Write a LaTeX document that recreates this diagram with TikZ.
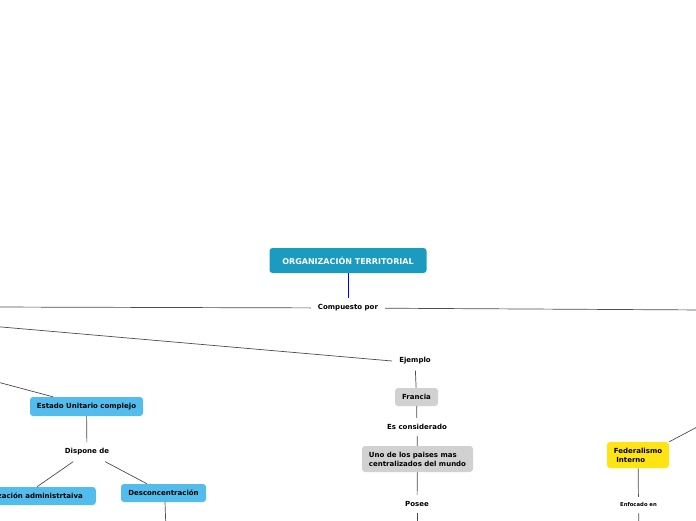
\documentclass[tikz,border=0pt]{standalone}
\usepackage{fontspec}
\setmainfont{DejaVu Sans}

\begin{document}
\begin{tikzpicture}[
            x=1pt, y=-1pt,
            every node/.style={
              font=\fontsize{7}{9}\selectfont\bfseries,
              text=black,
            },
            link/.style={draw=black!70, line width=0.7pt},
            label/.style={inner xsep=7pt, inner ysep=6pt},
            topic/.style={
              fill=topicblue,
              rounded corners=3pt,
              inner sep=0pt,
            },
            greybox/.style={
              fill=black!18,
              rounded corners=3pt,
              inner sep=0pt,
            },
          ]
          \definecolor{titleblue}{HTML}{1B9BBF}
          \definecolor{topicblue}{HTML}{52BDEC}
          \definecolor{topicyellow}{HTML}{FFE414}
          \useasboundingbox (0,0) rectangle (696,520);
          \clip (0,0) rectangle (696,520);
          % main topic
          \node[fill=titleblue, rounded corners=3pt, minimum width=157pt,
                minimum height=25pt, inner sep=0pt,
                text=white, font=\fontsize{8}{10}\selectfont\bfseries]
                (title) at (348,260.5) {ORGANIZACIÓN TERRITORIAL};
          \node[label] (comp) at (348,308) {Compuesto por};
          \draw[draw=blue, line width=0.8pt] (title)--(comp);
          \coordinate (offL1) at (-10,307);
          \coordinate (offR1) at (706,310);
          \coordinate (offL2) at (-10,326);
          \coordinate (offL3) at (-10,380);
          \coordinate (offR2) at (716,417);
          \draw[link] (comp)--(offL1);
          \draw[link] (comp)--(offR1);
          % centre branch
          \node[label] (ej) at (415,361) {Ejemplo};
          \draw[link] (offL2)--(ej.west);
          \node[greybox, minimum width=43pt, minimum height=18pt] (fr) at (416.5,397) {Francia};
          \node[label] (es) at (417,427) {Es considerado};
          \node[greybox, minimum width=111pt, minimum height=26pt,
                align=left] (uno) at (417.5,459)
                {Uno de los paises mas\\centralizados del mundo};
          \node[label] (pos) at (417,504) {Posee};
          \coordinate (endC) at (417,530);
          \draw[link] (ej)--(fr);
          \draw[link] (fr)--(es);
          \draw[link] (es)--(uno);
          \draw[link] (uno)--(pos);
          \draw[link] (pos)--(endC);
          % left branch
          \node[topic, minimum width=113pt, minimum height=19pt] (euc) at (86.5,406.5) {Estado Unitario complejo};
          \node[label] (disp) at (87,452) {Dispone de};
          \node[topic, minimum width=156pt, minimum height=18pt, anchor=east] (desc) at (96,496) {Descentralización administrtaiva};
          \node[topic, minimum width=85pt, minimum height=18pt] (conc) at (163.5,493) {Desconcentración};
          \coordinate (endL) at (166,530);
          \draw[link] (offL3)--(euc.north -| 53,0);
          \draw[link] (euc)--(disp);
          \draw[link] (disp)--(desc.north -| 37,0);
          \draw[link] (disp)--(conc.north -| 147,0);
          \draw[link] (conc.south -| 165,0)--(endL);
          % right branch
          \node[topic, fill=topicyellow, minimum width=62pt, minimum height=26pt,
                align=left] (fed) at (638,455) {Federalismo\\\ Interno};
          \node[label, font=\fontsize{5.3}{7}\selectfont\bfseries] (enf) at (638.5,505) {Enfocado en};
          \coordinate (endR) at (639,530);
          \draw[link] (fed.north east)--(offR2);
          \draw[link] (fed)--(enf);
          \draw[link] (enf)--(endR);
\end{tikzpicture}
\end{document}
